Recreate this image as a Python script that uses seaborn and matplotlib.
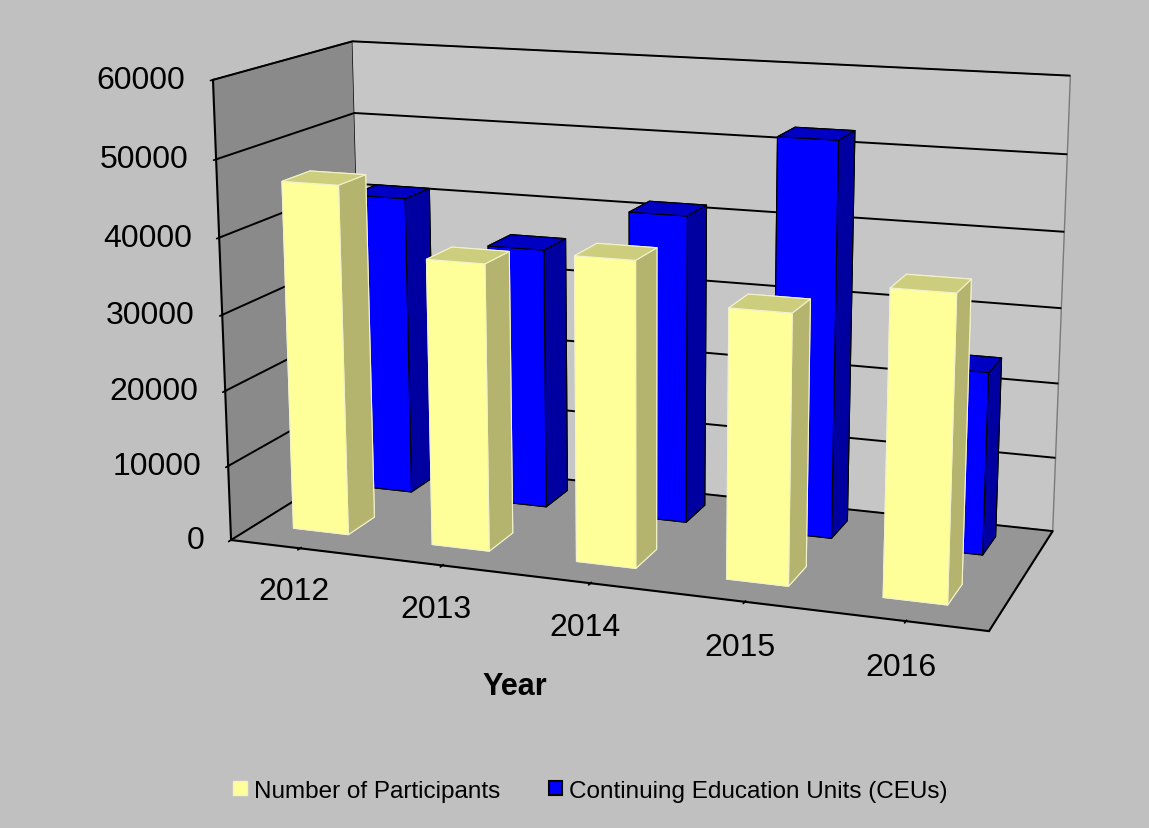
import numpy as np
import matplotlib
matplotlib.use('Agg')
import matplotlib.pyplot as plt
import seaborn as sns
from matplotlib.patches import Patch

years = ['2012', '2013', '2014', '2015', '2016']
participants = [46300, 37600, 39500, 34500, 38500]
ceus = [41000, 35400, 41300, 52300, 24000]
series_names = ['Number of Participants', 'Continuing Education Units (CEUs)']
z_ticks = [0, 10000, 20000, 30000, 40000, 50000, 60000]

sns.set_theme(style='white')
plt.rcParams['font.family'] = ['Liberation Sans', 'DejaVu Sans']
plt.rcParams.update({'text.color': 'black', 'axes.labelcolor': 'black',
                     'xtick.color': 'black', 'ytick.color': 'black'})

W, H = 1149, 829
fig = plt.figure(figsize=(W / 100, H / 100), dpi=100, facecolor='#C0C0C0')
# camera fitted to the excel-style perspective box
ax = fig.add_axes([0.0508, 0.1095, 1, 1], projection='3d')
ax.set_xlim(0, len(years))
ax.set_ylim(0, 2)
ax.set_zlim(0, 60000)
ax.view_init(13.4, -70.4)
ax.set_proj_type('persp', focal_length=0.571)
ax.set_box_aspect((1.660, 0.656, 1), zoom=1.127)
ax.set_facecolor('#C0C0C0')

# bars: participants in the front row, CEUs behind
xpos = np.arange(len(years))
bar_x = np.concatenate([xpos + 0.27, xpos + 0.27])
bar_y = np.concatenate([np.full(len(years), 0.36), np.full(len(years), 1.36)])
heights = np.concatenate([participants, ceus])
# face order in bar3d: -z, +z, -y, +y, -x, +x
yellow = ['#FFFF99', '#CDCD7E', '#FFFF99', '#FFFF99', '#FFFF99', '#B4B46E']
blue = ['#0000FF', '#0000C4', '#0000FF', '#0000FF', '#0000FF', '#0000A0']
face_colors = yellow * len(years) + blue * len(years)
edge_colors = ['#F2F2CC'] * 6 * len(years) + ['black'] * 6 * len(years)
ax.bar3d(bar_x, bar_y, np.zeros_like(bar_x), 0.4, 0.4, heights,
         color=face_colors, edgecolor=edge_colors, linewidth=0.8, shade=False)

# walls and floor
ax.xaxis.set_pane_color('#8A8A8A')
ax.yaxis.set_pane_color('#C6C6C6')
ax.zaxis.set_pane_color('#969696')
ax.xaxis.pane.set_edgecolor('black')
ax.yaxis.pane.set_edgecolor('#7A7A7A')
ax.zaxis.pane.set_edgecolor('#969696')

ax.grid(True)
ax.xaxis._axinfo['grid'].update(color=(0, 0, 0, 0), linewidth=0)
ax.yaxis._axinfo['grid'].update(color=(0, 0, 0, 0), linewidth=0)
ax.zaxis._axinfo['grid'].update(color='black', linewidth=1.4)
for axis in (ax.xaxis, ax.yaxis, ax.zaxis):
    axis._axinfo['axisline'].update(color='black', linewidth=1.5)
    axis.line.set_color('black')
    axis.line.set_linewidth(1.5)

ax.zaxis.set_ticks_position('lower')
ax.set_xticks(xpos + 0.5, labels=years)
ax.set_yticks([])
ax.set_zticks(z_ticks, labels=[str(v) for v in z_ticks])
ax.tick_params(axis='x', labelsize=23, pad=8, colors='black')
ax.tick_params(axis='z', labelsize=23, pad=2, colors='black')
for tick in ax.zaxis.get_major_ticks():
    tick.label1.set_horizontalalignment('right')
    tick.label1.set_verticalalignment('center')

fig.text(515 / W, 1 - 687 / H, 'Year', fontsize=22, fontweight='bold',
         ha='center', va='center')

handles = [Patch(facecolor='#FFFF99', edgecolor='#F2F2CC'),
           Patch(facecolor='#0000FF', edgecolor='black', linewidth=1.5)]
fig.legend(handles, series_names, loc='center', bbox_to_anchor=(0.514, 0.045),
           ncol=2, frameon=False, fontsize=17.5, handlelength=0.55,
           handleheight=0.55, handletextpad=0.3, columnspacing=2.0)

fig.savefig('out.png', dpi=100, facecolor=fig.get_facecolor())
